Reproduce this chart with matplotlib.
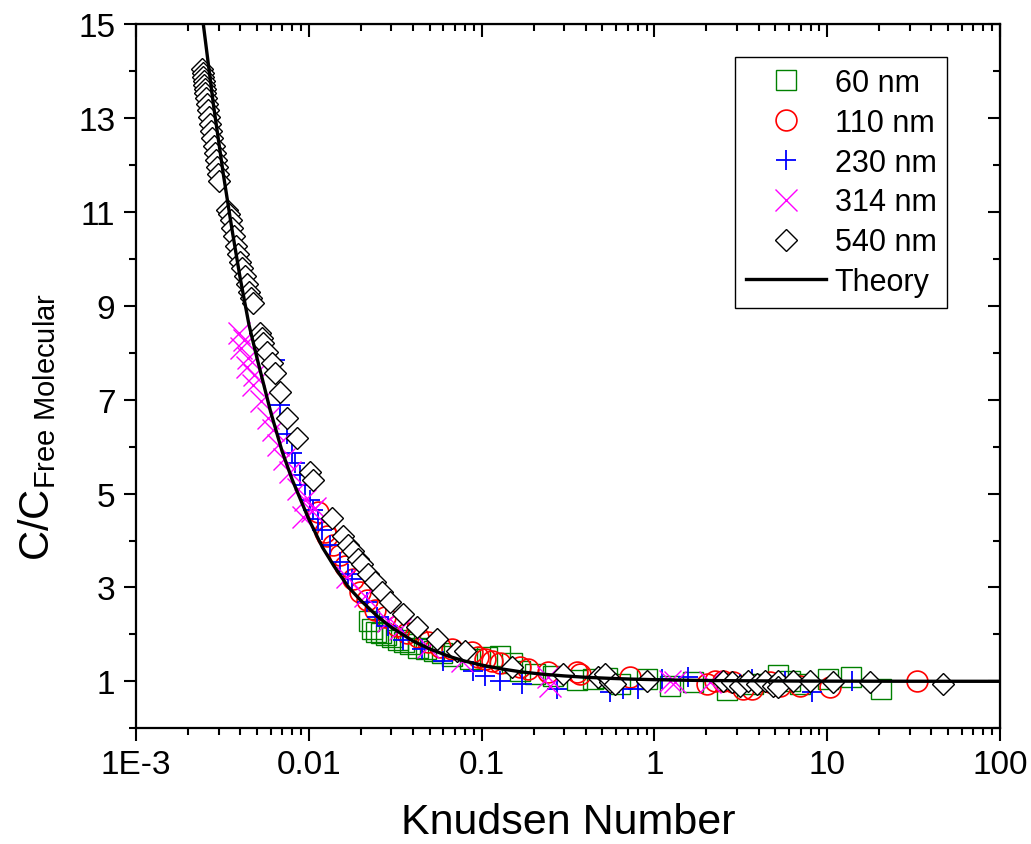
import numpy as np
import matplotlib
matplotlib.use('Agg')
import matplotlib.pyplot as plt
from matplotlib.ticker import FixedLocator, NullFormatter

plt.rcParams['font.family'] = ['Liberation Sans', 'DejaVu Sans']
plt.rcParams['mathtext.fontset'] = 'custom'
plt.rcParams['mathtext.rm'] = 'Liberation Sans'
plt.rcParams['mathtext.it'] = 'Liberation Sans:italic'

# 60 nm
kn_60 = [0.02231, 0.0232, 0.02448, 0.02617, 0.02798, 0.03031, 0.03283, 0.03556, 0.03852,
         0.04285, 0.04766, 0.05302, 0.05898, 0.06742, 0.08569, 0.1075, 0.1278, 0.150, 0.1668,
         0.2037, 0.2589, 0.3565, 0.4412, 0.5318, 0.6323, 0.9062, 1.231, 1.673, 2.631, 3.72,
         5.193, 6.092, 6.96, 10.11, 13.73, 20.48]
c_60 = [2.28, 2.11, 2.06, 2.02, 1.98, 1.94, 1.87, 1.83, 1.79,
        1.72, 1.68, 1.64, 1.60, 1.55, 1.47, 1.51, 1.53, 1.38, 1.21,
        1.15, 1.11, 1.02, 1.04, 1.06, 0.94, 1.04, 0.89, 0.98, 0.81, 0.94,
        1.13, 1.0, 0.94, 1.04, 1.09, 0.83]

# 110 nm
kn_110 = [0.0113, 0.01241, 0.01274, 0.0138, 0.01516, 0.0162, 0.01803, 0.01979, 0.02172,
          0.02416, 0.02761, 0.03239, 0.03701, 0.04285, 0.04896, 0.05744, 0.06742, 0.08799,
          0.09533, 0.1046, 0.1149, 0.1278, 0.1668, 0.1856, 0.2423, 0.3565, 0.3711, 0.7225,
          2.016, 2.243, 2.495, 2.851, 3.256, 3.671, 4.667, 5.333, 6.96, 10.38, 33.1]
c_110 = [4.60, 4.19, 4.09, 3.91, 3.70, 3.45, 3.17, 2.91, 2.74,
         2.53, 2.36, 2.17, 2.04, 1.94, 1.83, 1.74, 1.68, 1.62,
         1.51, 1.47, 1.43, 1.40, 1.30, 1.26, 1.19, 1.19, 1.15, 1.09,
         0.94, 1.0, 1.0, 0.98, 0.83, 0.83, 0.98, 0.89, 0.89, 0.87, 1.0]

# 230 nm
kn_230 = [0.00638, 0.00681, 0.00748, 0.008, 0.00832, 0.00889, 0.0095, 0.01016, 0.01057,
          0.0113, 0.01192, 0.01327, 0.01516, 0.01686, 0.01778, 0.02172, 0.02482, 0.02873,
          0.03509, 0.04519, 0.05978, 0.08918, 0.1046, 0.1278, 0.1713, 0.2731, 0.5535,
          0.658, 0.8035, 1.107, 1.564, 3.129, 3.671, 5.698, 8.166, 13.91]
c_230 = [7.85, 6.89, 6.26, 5.87, 5.66, 5.40, 5.19, 4.87, 4.66,
         4.45, 4.23, 3.91, 3.55, 3.28, 3.17, 2.70, 2.38, 2.17,
         1.89, 1.68, 1.43, 1.21, 1.11, 1.0, 0.94, 0.83, 0.77,
         0.83, 0.83, 1.04, 1.09, 0.94, 1.04, 1.0, 0.77, 1.0]

# 314 nm
kn_314 = [0.00395, 0.00422, 0.00405, 0.00445, 0.00439, 0.00482, 0.00475, 0.00529, 0.0058,
          0.00621, 0.00663, 0.00719, 0.00778, 0.00866, 0.0095, 0.01043, 0.01086, 0.00926,
          0.01664, 0.02114, 0.02873, 0.03372, 0.04896, 0.077, 0.2423, 0.2488, 1.231, 1.316,
          2.098]
c_314 = [8.43, 8.28, 8.11, 7.89, 7.70, 7.53, 7.32, 6.98, 6.62,
         6.36, 6.04, 5.74, 5.47, 5.09, 4.87, 4.62, 4.70, 4.51,
         3.23, 2.81, 2.28, 2.11, 1.74, 1.43, 1.09, 0.89, 1.0, 0.98,
         0.98]

# 540 nm
kn_540 = [0.00241, 0.00244, 0.00244, 0.00247, 0.00247, 0.00251, 0.00251, 0.00254, 0.00258,
          0.00261, 0.00265, 0.00268, 0.00272, 0.00275, 0.00283, 0.00287, 0.0029, 0.00294,
          0.00298, 0.00302,
          0.00336, 0.00345, 0.00355, 0.00359, 0.00369, 0.00379, 0.00389, 0.004, 0.00411,
          0.00427, 0.00439, 0.00451, 0.00463, 0.00475,
          0.00522, 0.00536, 0.00543, 0.00573, 0.00612, 0.00638, 0.00681, 0.00748, 0.00855,
          0.01016, 0.01057, 0.01362, 0.01578, 0.01686, 0.01803, 0.01926, 0.02032, 0.02201,
          0.02416, 0.02652, 0.02951, 0.03509, 0.04228, 0.05521, 0.07207, 0.08016, 0.14995,
          0.2959, 0.4717, 0.5318, 0.5535, 0.5176, 0.5916, 0.9062, 2.495, 2.812, 3.129,
          3.482, 3.925, 4.365, 4.857, 5.193, 5.193, 6.341, 7.954, 10.80, 17.69, 46.8]
c_540 = [14.04, 13.96, 13.87, 13.79, 13.70, 13.62, 13.53, 13.43, 13.30,
         13.17, 13.02, 12.87, 12.72, 12.57, 12.40, 12.26, 12.11, 11.96,
         11.81, 11.66,
         11.04, 10.96, 10.83, 10.66, 10.49, 10.28, 10.11, 9.94, 9.81,
         9.64, 9.47, 9.30, 9.17, 9.06,
         8.43, 8.32, 8.21, 8.02, 7.79, 7.57, 7.17, 6.62, 6.19,
         5.47, 5.30, 4.49, 4.09, 3.91, 3.77, 3.60, 3.49, 3.28,
         3.11, 2.91, 2.70, 2.43, 2.15, 1.91, 1.64, 1.64, 1.30,
         1.15, 1.09, 1.09, 0.98, 1.15, 0.94, 1.0, 1.0, 0.98, 0.89,
         1.0, 0.94, 1.0, 0.89, 1.0, 0.87, 1.0, 1.0, 0.98, 0.98, 0.94]

# theory curve
kn_th = [0.00245, 0.0028, 0.0032, 0.0036, 0.004, 0.0045, 0.005, 0.006, 0.007, 0.008,
         0.009, 0.01, 0.012, 0.014, 0.017, 0.02, 0.025, 0.03, 0.04, 0.05, 0.065, 0.08,
         0.1, 0.13, 0.17, 0.22, 0.3, 0.4, 0.55, 0.75, 1, 1.5, 2, 3, 5, 10, 30, 100]
c_th = [15.0, 13.3, 11.8, 10.6, 9.6, 8.6, 7.9, 6.75, 5.9, 5.3,
        4.85, 4.45, 3.85, 3.45, 3.0, 2.72, 2.38, 2.15, 1.86, 1.69, 1.53, 1.43,
        1.345, 1.265, 1.2, 1.155, 1.115, 1.086, 1.063, 1.046, 1.035, 1.023, 1.017,
        1.012, 1.007, 1.0035, 1.001, 1.0]

xticks = [1e-3, 1e-2, 1e-1, 1, 10, 100]
xticklabels = ['1E-3', '0.01', '0.1', '1', '10', '100']
yticks = [1, 3, 5, 7, 9, 11, 13, 15]
yminor = [0, 2, 4, 6, 8, 10, 12, 14]
xminor = [m * 10.0 ** e for e in range(-3, 2) for m in range(2, 10)]

fig = plt.figure(figsize=(10.31, 8.45), dpi=100)
ax = fig.add_axes([0.132, 0.137, 0.838, 0.833])

ax.plot(kn_60, c_60, ls='none', marker='s', ms=14, mfc='none', mec='#008000', mew=1.0,
        label='60 nm')
ax.plot(kn_110, c_110, ls='none', marker='o', ms=15, mfc='none', mec='#ff0000', mew=1.2,
        label='110 nm')
ax.plot(kn_230, c_230, ls='none', marker='+', ms=14, mec='#0000ff', mew=1.3,
        label='230 nm')
ax.plot(kn_314, c_314, ls='none', marker='x', ms=16, mec='#ff00ff', mew=1.0,
        label='314 nm')
ax.plot(kn_540, c_540, ls='none', marker='D', ms=11, mfc='white', mec='black', mew=1.0,
        label='540 nm')
ax.plot(kn_th, c_th, color='black', lw=2.4, label='Theory')

ax.set_xscale('log')
ax.set_xlim(1e-3, 100)
ax.set_ylim(0, 15)
ax.set_xticks(xticks)
ax.set_xticklabels(xticklabels)
ax.xaxis.set_minor_locator(FixedLocator(xminor))
ax.xaxis.set_minor_formatter(NullFormatter())
ax.yaxis.set_major_locator(FixedLocator(yticks))
ax.yaxis.set_minor_locator(FixedLocator(yminor))

for s in ax.spines.values():
    s.set_linewidth(1.6)
ax.tick_params(which='both', direction='out', top=False, right=False,
               width=1.5, labelsize=24, pad=6)
ax.tick_params(which='major', length=9)
ax.tick_params(which='minor', length=5)

# inward ticks on top and right
secx = ax.secondary_xaxis('top')
secx.set_xticks(xticks)
secx.xaxis.set_minor_locator(FixedLocator(xminor))
secx.tick_params(which='both', direction='in', labeltop=False, width=1.5)
secx.tick_params(which='major', length=9)
secx.tick_params(which='minor', length=5)
secx.xaxis.set_minor_formatter(NullFormatter())
secx.set_xticklabels([])
secy = ax.secondary_yaxis('right')
secy.yaxis.set_major_locator(FixedLocator(yticks))
secy.yaxis.set_minor_locator(FixedLocator(yminor))
secy.tick_params(which='both', direction='in', labelright=False, width=1.5)
secy.tick_params(which='major', length=9)
secy.tick_params(which='minor', length=5)

ax.set_xlabel('Knudsen Number', fontsize=31, labelpad=16)
ax.set_ylabel(r'C/C$_{\mathrm{Free\ Molecular}}$', fontsize=30)
ax.yaxis.set_label_coords(-0.09, 0.43)

leg = ax.legend(loc='upper right', bbox_to_anchor=(0.939, 0.953), borderaxespad=0,
                fontsize=22, numpoints=1, handlelength=2.6, handletextpad=0.3,
                labelspacing=0.32, borderpad=0.35, fancybox=False, edgecolor='black',
                framealpha=1)
leg.get_frame().set_linewidth(1.0)

fig.savefig('out.png', dpi=100)
